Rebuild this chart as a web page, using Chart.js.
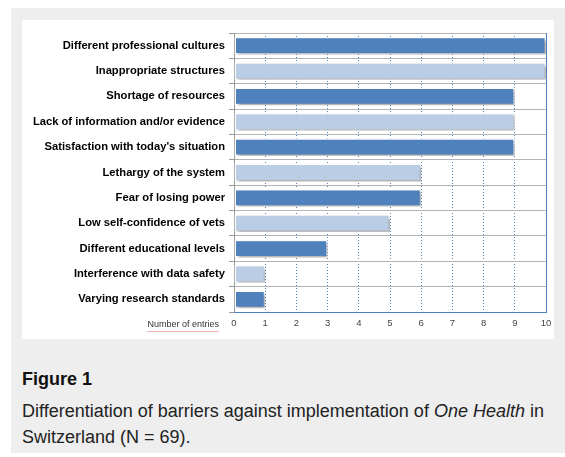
<!DOCTYPE html>
<html>
<head>
<meta charset="utf-8">
<script src="https://cdn.jsdelivr.net/npm/chart.js@4.4.1/dist/chart.umd.min.js"></script>
<style>
    html, body { margin: 0; padding: 0; background: #fff; }
    body { width: 565px; height: 457px; position: relative; overflow: hidden; font-family: "Liberation Sans", Arial, sans-serif; }
    .panel { position: absolute; left: 11px; top: 8px; width: 554px; height: 445px; background: #eeeeee; }
    .chart-box { position: absolute; left: 22px; top: 20px; width: 532px; height: 319px; background: #fff; }
    .fig-title { position: absolute; left: 22px; top: 370px; font-size: 18px; line-height: 18px; font-weight: bold; color: #111; margin: 0; }
    .fig-text { position: absolute; left: 22px; top: 398px; width: 540px; font-size: 18px; line-height: 26px; color: #222; margin: 0; }
</style>
</head>
<body>
<div class="panel"></div>
<div class="chart-box"><canvas id="barChart" width="532" height="319"></canvas></div>
<h3 class="fig-title">Figure 1</h3>
<p class="fig-text">Differentiation of barriers against implementation of <i>One Health</i> in Switzerland (N = 69).</p>

<script>
// Barriers, top to bottom
const barriers = [
    'Different professional cultures',
    'Inappropriate structures',
    'Shortage of resources',
    'Lack of information and/or evidence',
    "Satisfaction with today's situation",
    'Lethargy of the system',
    'Fear of losing power',
    'Low self-confidence of vets',
    'Different educational levels',
    'Interference with data safety',
    'Varying research standards'
];
const entries = [10, 10, 9, 9, 9, 6, 6, 5, 3, 1, 1];
const xTicks = [0, 1, 2, 3, 4, 5, 6, 7, 8, 9, 10];
const axisLabel = 'Number of entries';

const darkBlue = '#4f81bd';
const lightBlue = '#b9cde5';

// bars alternate dark / light
const barColors = entries.map((v, i) => i % 2 === 0 ? darkBlue : lightBlue);

// soft shadow behind the bars
const barShadow = {
    id: 'barShadow',
    beforeDatasetsDraw(chart) {
        const ctx = chart.ctx;
        ctx.save();
        ctx.shadowColor = 'rgba(0, 0, 0, 0.35)';
        ctx.shadowBlur = 3;
        ctx.shadowOffsetX = 2;
        ctx.shadowOffsetY = 2;
    },
    afterDatasetsDraw(chart) {
        chart.ctx.restore();
    }
};

// solid right/bottom frame + axis caption
const frameAndCaption = {
    id: 'frameAndCaption',
    afterDraw(chart) {
        const ctx = chart.ctx;
        const area = chart.chartArea;
        const x = chart.scales.x;
        const xr = Math.round(x.getPixelForValue(10)) + 0.5;
        const yb = Math.round(area.bottom) + 0.5;
        ctx.save();
        ctx.strokeStyle = darkBlue;
        ctx.lineWidth = 1;
        ctx.beginPath();
        ctx.moveTo(xr, area.top);
        ctx.lineTo(xr, yb);
        ctx.lineTo(area.left, yb);
        ctx.stroke();

        // "Number of entries" label left of the x ticks
        ctx.font = '9px "Liberation Sans", Arial, sans-serif';
        ctx.fillStyle = '#333';
        ctx.textAlign = 'right';
        ctx.textBaseline = 'middle';
        const right = area.left - 15;
        const y = area.bottom + 13;
        ctx.fillText(axisLabel, right, y);
        const w = ctx.measureText(axisLabel).width;
        ctx.strokeStyle = '#e06060';
        ctx.setLineDash([1, 1]);
        ctx.beginPath();
        ctx.moveTo(right - w, y + 6.5);
        ctx.lineTo(right, y + 6.5);
        ctx.stroke();
        ctx.restore();
    }
};

const ctx = document.getElementById('barChart').getContext('2d');
new Chart(ctx, {
    type: 'bar',
    data: {
        labels: barriers,
        datasets: [{
            data: entries,
            backgroundColor: barColors,
            borderColor: '#ffffff',
            borderWidth: 1.5,
            borderSkipped: false,
            barPercentage: 0.7,
            categoryPercentage: 1.0
        }]
    },
    options: {
        indexAxis: 'y',
        responsive: false,
        animation: false,
        layout: { padding: { top: 13, right: 8, bottom: 0, left: 0 } },
        plugins: {
            legend: { display: false },
            tooltip: { enabled: false }
        },
        scales: {
            x: {
                min: 0,
                max: 10,
                afterBuildTicks: (scale) => { scale.ticks = xTicks.map(v => ({ value: v })); },
                afterFit: (scale) => {
                    scale.height = 27;
                    scale.paddingLeft = 0;
                    scale.paddingRight = 0;
                },
                grid: {
                    color: darkBlue,
                    lineWidth: 1,
                    drawTicks: false
                },
                border: { color: darkBlue, width: 1, dash: [1, 2] },
                ticks: {
                    padding: 6,
                    color: '#444',
                    font: { family: '"Liberation Sans", Arial, sans-serif', size: 9.5 }
                }
            },
            y: {
                afterFit: (scale) => { scale.width = 212; },
                grid: {
                    color: '#b4b4b4',
                    lineWidth: 1,
                    tickLength: 5,
                    tickColor: '#999'
                },
                border: { color: '#999', width: 1 },
                ticks: {
                    padding: 4,
                    color: '#000',
                    font: { family: '"Liberation Sans", Arial, sans-serif', size: 11.2, weight: 'bold' }
                }
            }
        }
    },
    plugins: [barShadow, frameAndCaption]
});
</script>
</body>
</html>
